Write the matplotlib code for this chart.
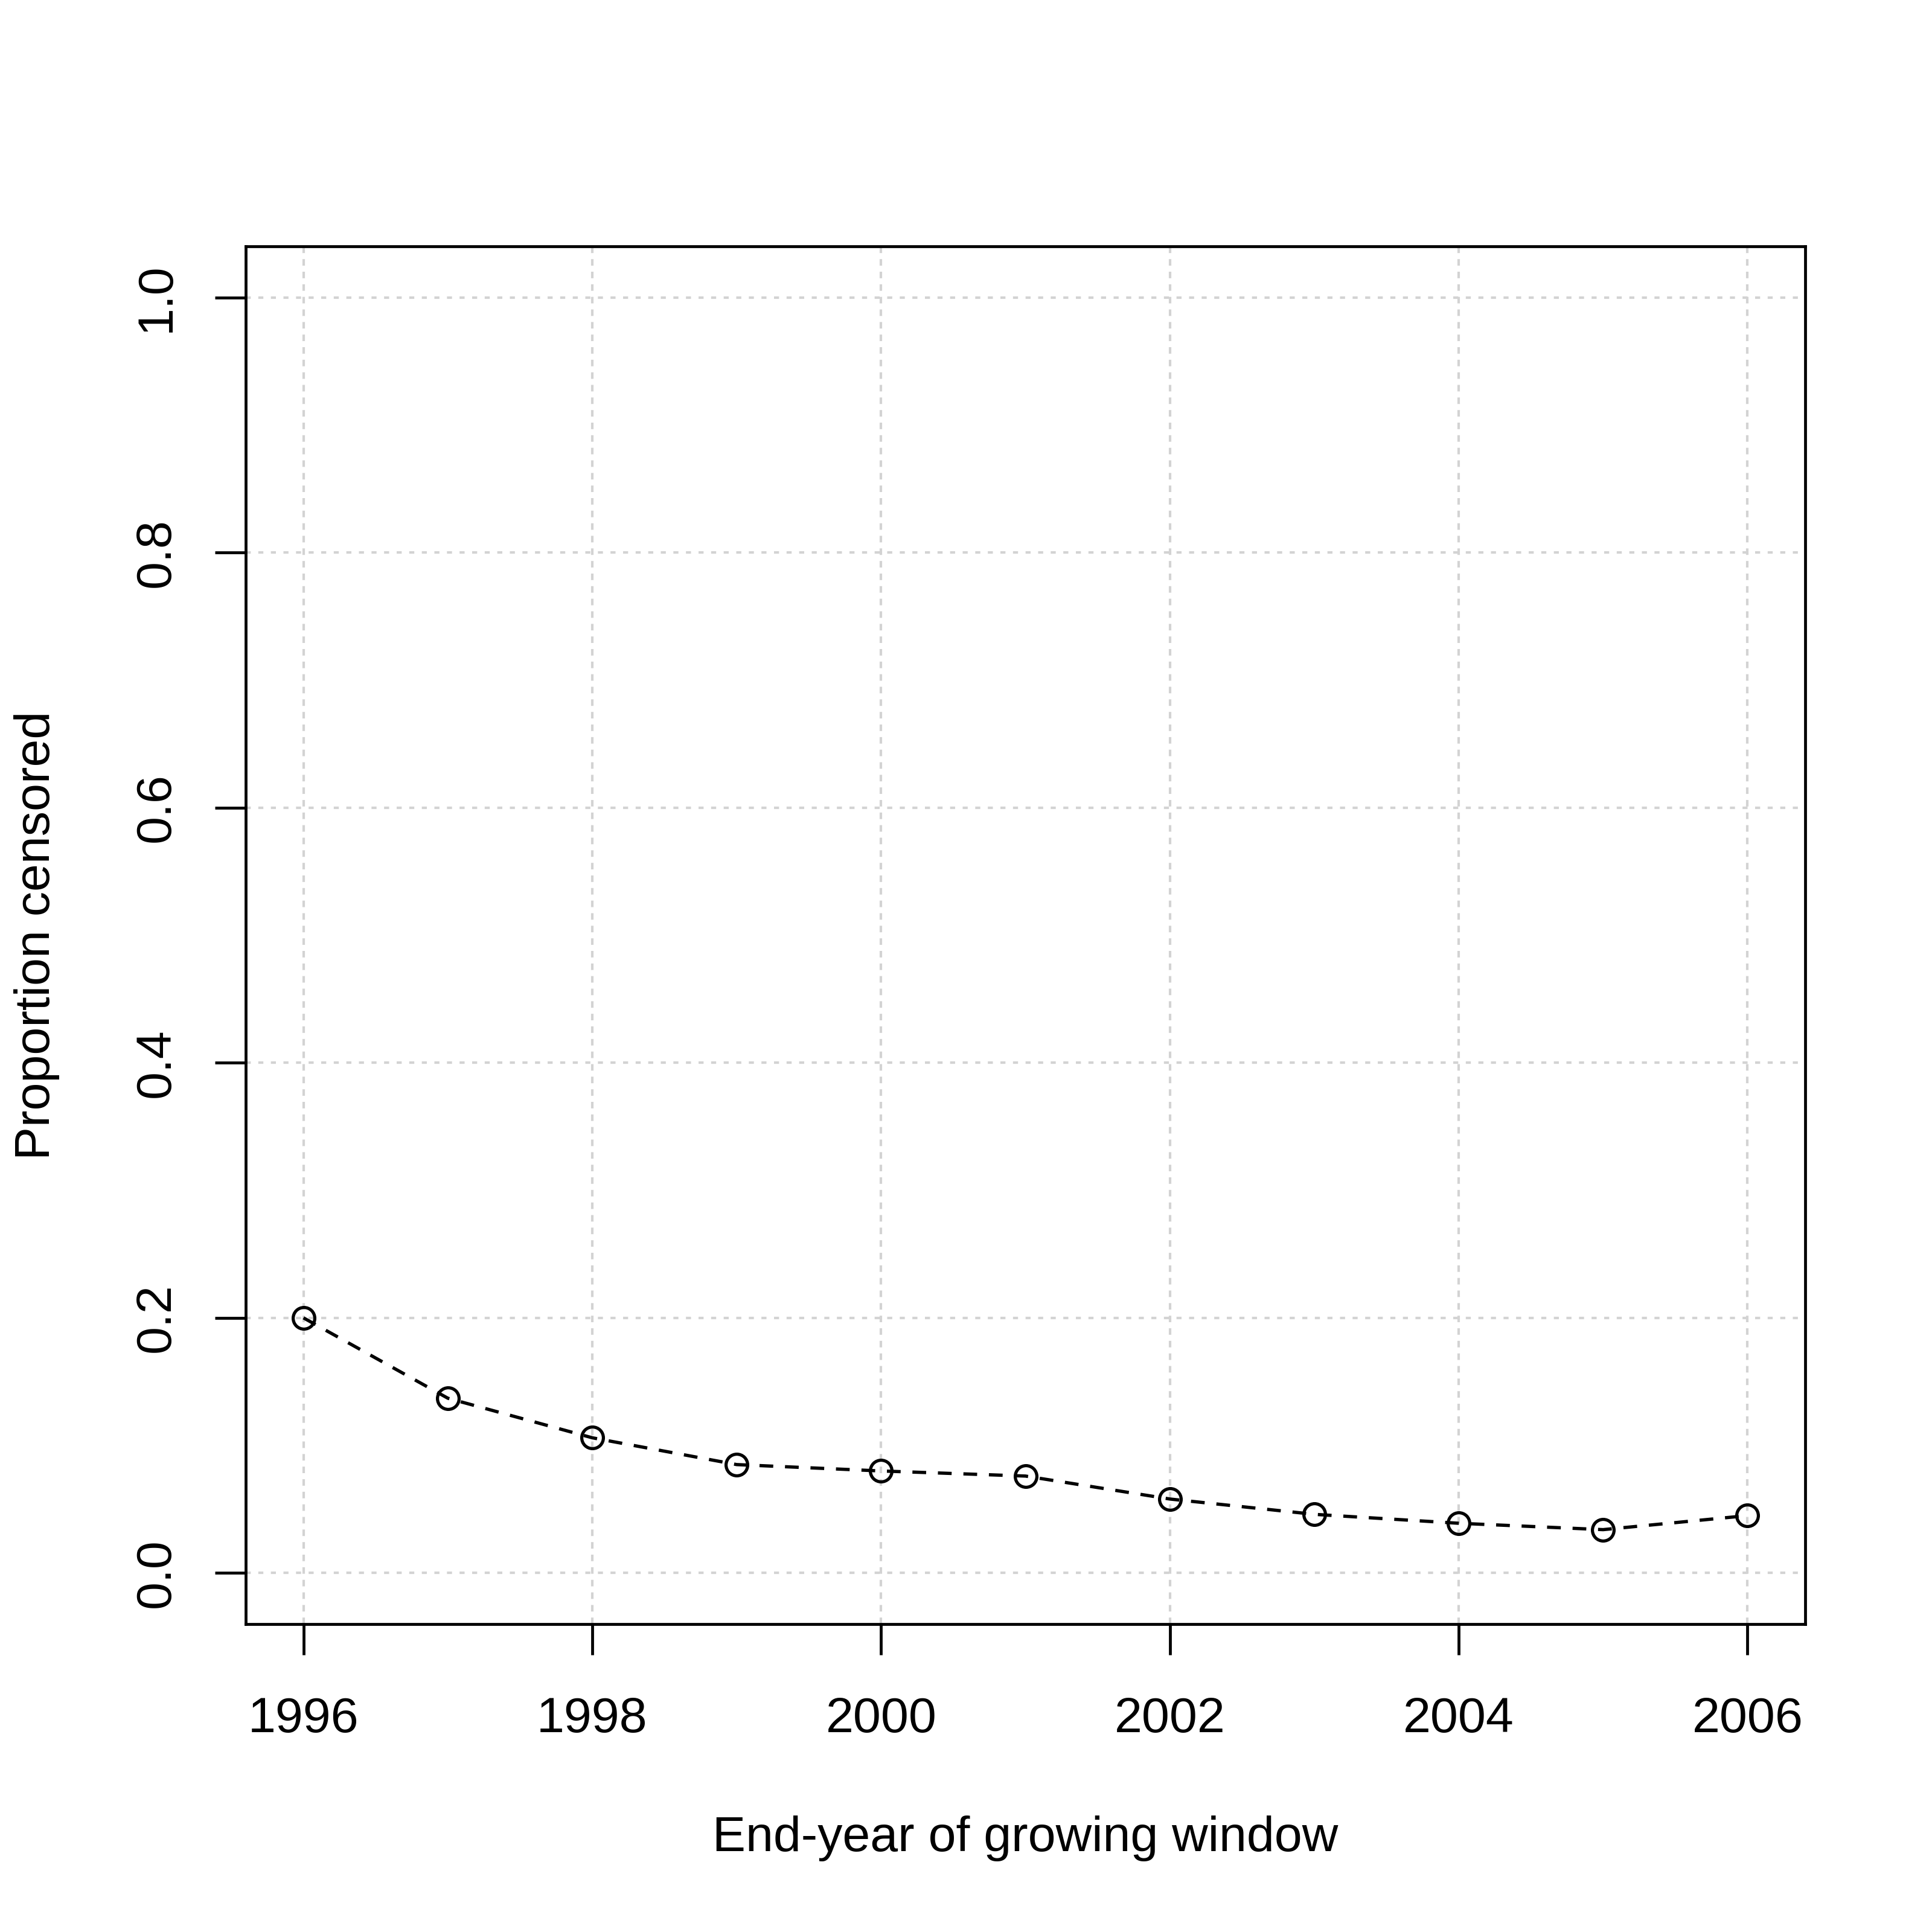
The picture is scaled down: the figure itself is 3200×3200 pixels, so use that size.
import matplotlib
matplotlib.use("Agg")
import matplotlib.pyplot as plt
import numpy as np

plt.rcParams['font.family'] = ['Liberation Sans', 'DejaVu Sans']

# proportion censored per end-year of growing window
years = [1996, 1997, 1998, 1999, 2000, 2001, 2002, 2003, 2004, 2005, 2006]
prop_censored = [0.200, 0.137, 0.106, 0.085, 0.080, 0.076, 0.058, 0.046, 0.039, 0.034, 0.045]

xticks = [1996, 1998, 2000, 2002, 2004, 2006]
yticks = [0.0, 0.2, 0.4, 0.6, 0.8, 1.0]
ytick_labels = ["0.0", "0.2", "0.4", "0.6", "0.8", "1.0"]

fsize = 19.8
lw = 1.15

fig = plt.figure(figsize=(3200/300, 3200/300), dpi=300)
ax = fig.add_axes([0.1272, 0.1594, 0.9344-0.1272, 0.8725-0.1594])

# grid lines (drawn by hand like R's abline)
for xv in xticks:
    ax.axvline(xv, color='#D3D3D3', lw=1.0, dashes=(2.6, 2.4), zorder=1)
for yv in yticks:
    ax.axhline(yv, color='#D3D3D3', lw=1.0, dashes=(2.0, 3.0), zorder=1)

ax.plot(years, prop_censored, color='black', lw=1.3, dashes=(4.2, 3.6),
        marker='o', markersize=8.6, markerfacecolor='none',
        markeredgecolor='black', markeredgewidth=1.25, zorder=3)

ax.set_xlim(1995.6, 2006.4)
ax.set_ylim(-0.04, 1.04)
ax.set_xticks(xticks)
ax.set_xticklabels([str(x) for x in xticks])
ax.set_yticks(yticks)
ax.set_yticklabels(ytick_labels, rotation=90, va='center')

for sp in ax.spines.values():
    sp.set_linewidth(lw)
ax.tick_params(axis='both', length=12.2, width=lw, labelsize=fsize, direction='out')
ax.tick_params(axis='x', pad=16.5)
ax.tick_params(axis='y', pad=14)

ax.set_xlabel("End-year of growing window", fontsize=fsize, va='center')
ax.xaxis.set_label_coords(0.5, -0.1556)
ax.set_ylabel("Proportion censored", fontsize=fsize, va='center')
ax.yaxis.set_label_coords(-0.134, 0.5)

fig.savefig("out.png", dpi=300)
